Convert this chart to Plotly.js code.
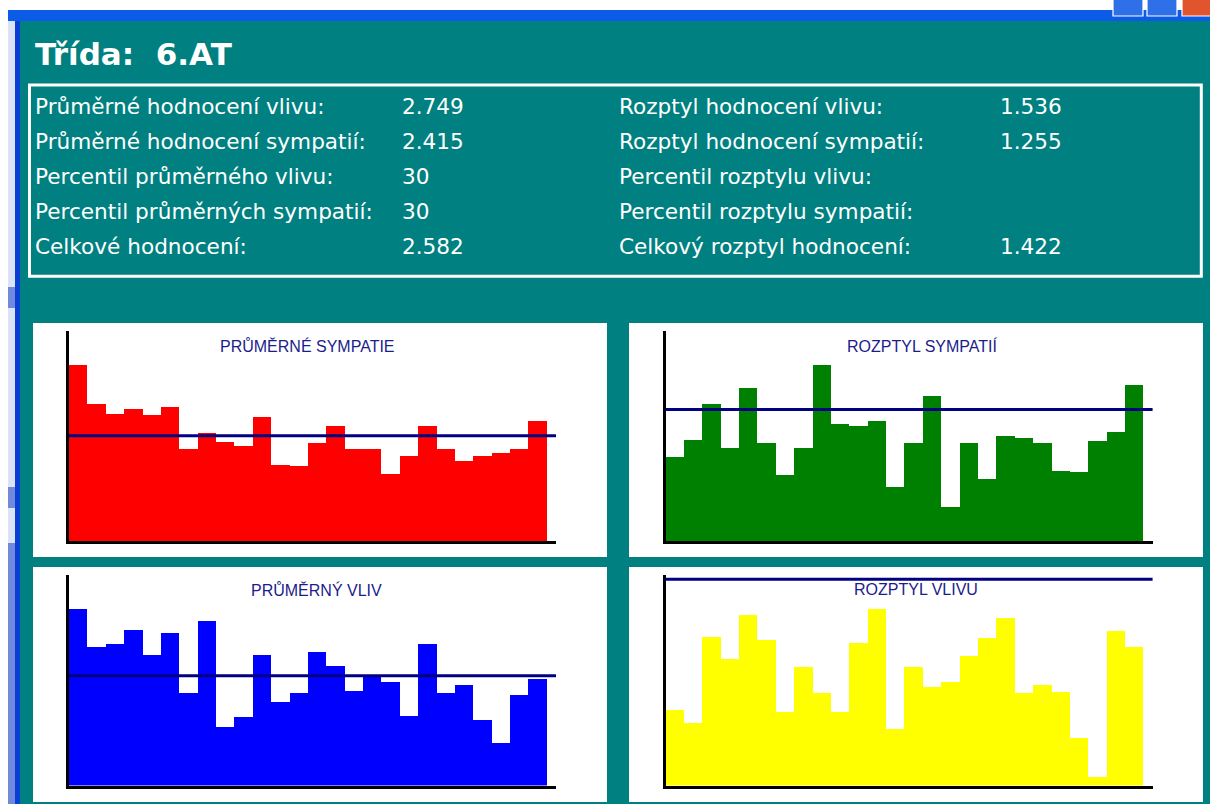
<!DOCTYPE html>
<html>
<head>
<meta charset="utf-8">
<script src="https://cdn.plot.ly/plotly-3.0.1.min.js"></script>
<style>
html,body{margin:0;padding:0;background:#008080;overflow:hidden;}
#chart{width:1210px;height:804px;}
</style>
</head>
<body>
<div id="chart"></div>
<script>
// ---------- data ----------
const className = "6.AT";
const students = [1,2,3,4,5,6,7,8,9,10,11,12,13,14,15,16,17,18,19,20,21,22,23,24,25,26];

const prumerneSympatie = [4.15,3.23,3.00,3.10,2.96,3.16,2.18,2.55,2.34,2.24,2.92,1.80,1.76,2.31,2.72,2.18,2.18,1.59,2.00,2.72,2.18,1.89,2.00,2.07,2.18,2.82];
const linePrumerneSympatie = 2.48;

const rozptylSympatii = [0.79,0.95,1.29,0.88,1.44,0.92,0.62,0.88,1.66,1.10,1.08,1.13,0.51,0.92,1.37,0.32,0.92,0.58,0.99,0.97,0.92,0.66,0.65,0.94,1.03,1.47];
const lineRozptylSympatii = 1.24;

const prumernyVliv = [4.14,3.26,3.32,3.66,3.08,3.59,2.17,3.87,1.37,1.61,3.08,1.96,2.17,3.15,2.81,2.23,2.54,2.44,1.64,3.32,2.17,2.37,1.55,1.00,2.12,2.50];
const linePrumernyVliv = 2.58;

const rozptylVlivu = [0.71,0.59,1.40,1.19,1.60,1.37,0.69,1.11,0.87,0.69,1.34,1.66,0.53,1.11,0.93,0.97,1.22,1.39,1.58,0.87,0.95,0.88,0.45,0.08,1.45,1.30];
const lineRozptylVlivu = 1.94;

const chartTitles = ["PRŮMĚRNÉ SYMPATIE","ROZPTYL SYMPATIÍ","PRŮMĚRNÝ VLIV","ROZPTYL VLIVU"];

const labelsLeft = ["Průměrné hodnocení vlivu:","Průměrné hodnocení sympatií:","Percentil průměrného vlivu:","Percentil průměrných sympatií:","Celkové hodnocení:"];
const valuesLeft = ["2.749","2.415","30","30","2.582"];
const labelsRight = ["Rozptyl hodnocení vlivu:","Rozptyl hodnocení sympatií:","Percentil rozptylu vlivu:","Percentil rozptylu sympatií:","Celkový rozptyl hodnocení:"];
const valuesRight = ["1.536","1.255","","","1.422"];

// ---------- layout helpers ----------
const W = 1210, H = 804;
const fx = px => px / W;
const fy = py => 1 - py / H;

const panels = [
  {key:'', data:prumerneSympatie, line:linePrumerneSympatie, color:'#ff0000', ymax:4.95,
   px:[33,607], py:[323,557], dx:[69,556], dy:[331,541], tx:308, ty:345.5, title:chartTitles[0]},
  {key:'2', data:rozptylSympatii, line:lineRozptylSympatii, color:'#008000', ymax:1.98,
   px:[629,1203], py:[323,557], dx:[665.5,1152.6], dy:[331,541], tx:923, ty:345.5, title:chartTitles[1]},
  {key:'3', data:prumernyVliv, line:linePrumernyVliv, color:'#0000ff', ymax:4.95,
   px:[33,607], py:[567,802], dx:[69,556], dy:[575,785.5], tx:316, ty:589.5, title:chartTitles[2]},
  {key:'4', data:rozptylVlivu, line:lineRozptylVlivu, color:'#ffff00', ymax:1.98,
   px:[629,1203], py:[567,802], dx:[665.5,1152.6], dy:[575,785.5], tx:916, ty:589, title:chartTitles[3]}
];

const traces = [];
const shapes = [];
const annotations = [];
const layout = {
  width: W, height: H, autosize: false,
  margin: {l:0, r:0, t:0, b:0, pad:0},
  paper_bgcolor: '#008080', plot_bgcolor: 'rgba(0,0,0,0)',
  showlegend: false, bargap: 0, bargroupgap: 0,
  shapes: shapes, annotations: annotations
};

// window chrome
shapes.push({type:'rect', xref:'paper', yref:'paper', x0:0, x1:1, y0:fy(10), y1:1, fillcolor:'#ffffff', line:{width:0}, layer:'below'});
shapes.push({type:'rect', xref:'paper', yref:'paper', x0:0, x1:fx(8), y0:0, y1:1, fillcolor:'#ffffff', line:{width:0}, layer:'below'});
shapes.push({type:'rect', xref:'paper', yref:'paper', x0:fx(8), x1:fx(15), y0:0, y1:fy(21), fillcolor:'#dde3f6', line:{width:0}, layer:'below'});
[[287,308],[487,508],[543,804]].forEach(b => shapes.push({type:'rect', xref:'paper', yref:'paper', x0:fx(8), x1:fx(15), y0:fy(b[1]), y1:fy(b[0]), fillcolor:'#7189da', line:{width:0}, layer:'below'}));
shapes.push({type:'rect', xref:'paper', yref:'paper', x0:fx(15), x1:fx(20), y0:0, y1:fy(10), fillcolor:'#0a3fd6', line:{width:0}, layer:'below'});
shapes.push({type:'rect', xref:'paper', yref:'paper', x0:fx(8), x1:1, y0:fy(21), y1:fy(10), fillcolor:'#0b5be6', line:{width:0}, layer:'below'});
[[1113,1143,'#2f6fe8'],[1147,1177,'#2f6fe8'],[1182,1212,'#e0552e']].forEach(b => shapes.push({type:'rect', xref:'paper', yref:'paper', x0:fx(b[0]), x1:fx(b[1]), y0:fy(16), y1:fy(-2), fillcolor:b[2], line:{width:1.2, color:'#ffffff'}, layer:'above'}));

// info box border
shapes.push({type:'rect', xref:'paper', yref:'paper', x0:fx(29.5), x1:fx(1201.3), y0:fy(276.3), y1:fy(85), fillcolor:'rgba(0,0,0,0)', line:{width:3, color:'#ffffff'}, layer:'below'});

// class title
annotations.push({xref:'paper', yref:'paper', x:fx(33), y:fy(54.5), xanchor:'left', yanchor:'middle', showarrow:false,
  text:'Třída:\u00a0 ' + className, font:{family:'DejaVu Sans', size:31, color:'#ffffff', weight:'bold'}});

// info rows
const rowBase = [114.5,149.3,184.2,219,254];
const infoFont = {family:'DejaVu Sans', size:21.6, color:'#ffffff'};
for (let i = 0; i < rowBase.length; i++) {
  const yc = fy(rowBase[i] - 7.6);
  annotations.push({xref:'paper', yref:'paper', x:fx(33), y:yc, xanchor:'left', yanchor:'middle', showarrow:false, text:labelsLeft[i], font:infoFont});
  if (valuesLeft[i]) annotations.push({xref:'paper', yref:'paper', x:fx(400), y:yc, xanchor:'left', yanchor:'middle', showarrow:false, text:valuesLeft[i], font:infoFont});
  annotations.push({xref:'paper', yref:'paper', x:fx(617), y:yc, xanchor:'left', yanchor:'middle', showarrow:false, text:labelsRight[i], font:infoFont});
  if (valuesRight[i]) annotations.push({xref:'paper', yref:'paper', x:fx(998), y:yc, xanchor:'left', yanchor:'middle', showarrow:false, text:valuesRight[i], font:infoFont});
}

// charts
panels.forEach(p => {
  const xa = 'xaxis' + p.key, ya = 'yaxis' + p.key;
  const xr = 'x' + p.key, yr = 'y' + p.key;
  shapes.push({type:'rect', xref:'paper', yref:'paper', x0:fx(p.px[0]), x1:fx(p.px[1]), y0:fy(p.py[1]), y1:fy(p.py[0]),
    fillcolor:'#ffffff', line:{width:0}, layer:'below'});
  layout[xa] = {domain:[fx(p.dx[0]), fx(p.dx[1])], range:[0.5, 27], anchor:yr,
    showline:true, linecolor:'#000000', linewidth:3, showgrid:false, zeroline:false,
    showticklabels:false, ticks:'', fixedrange:true};
  layout[ya] = {domain:[fy(p.dy[1]), fy(p.dy[0])], range:[0, p.ymax], anchor:xr,
    showline:true, linecolor:'#000000', linewidth:3, showgrid:false, zeroline:false,
    showticklabels:false, ticks:'', fixedrange:true};
  traces.push({type:'bar', x:students, y:p.data, xaxis:xr, yaxis:yr, width:1,
    marker:{color:p.color, line:{width:0}}, hoverinfo:'skip'});
  shapes.push({type:'line', xref:xr + ' domain', yref:yr, x0:0, x1:1, y0:p.line, y1:p.line,
    line:{color:'#000080', width:3}, layer:'above'});
  annotations.push({xref:'paper', yref:'paper', x:fx(p.tx), y:fy(p.ty), xanchor:'center', yanchor:'middle', showarrow:false,
    text:p.title, font:{family:'Liberation Sans', size:16, color:'#1c1c8c'}});
});

Plotly.newPlot('chart', traces, layout, {displayModeBar:false, staticPlot:true});
</script>
</body>
</html>
